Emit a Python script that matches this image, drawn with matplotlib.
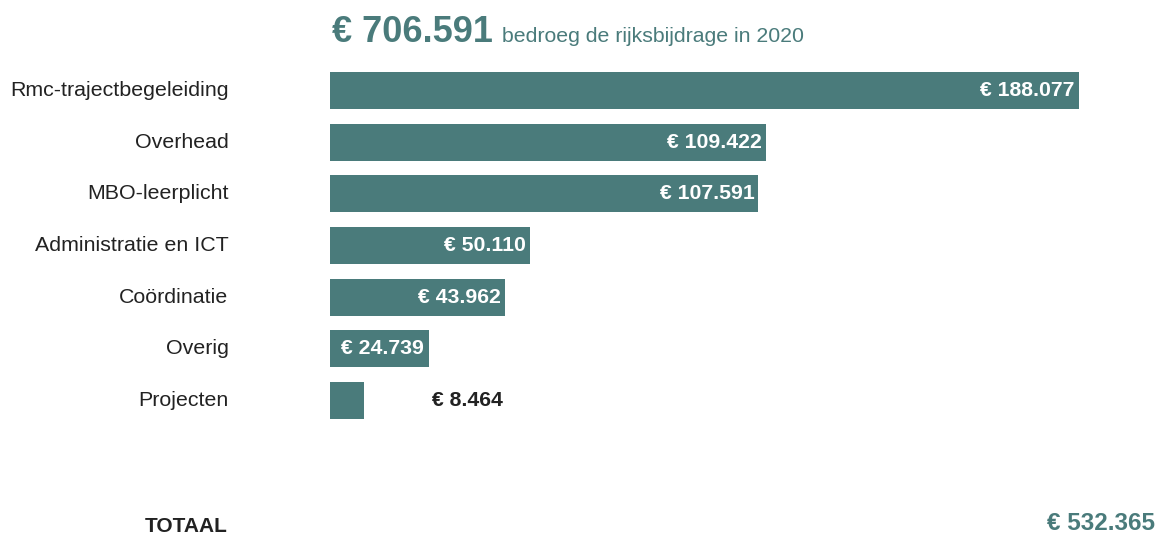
import matplotlib
matplotlib.use("Agg")
import matplotlib.pyplot as plt

plt.rcParams["font.family"] = ["Liberation Sans", "DejaVu Sans"]

# rijksbijdrage 2020 per post
categories = ["Rmc-trajectbegeleiding", "Overhead", "MBO-leerplicht",
              "Administratie en ICT", "Coördinatie", "Overig", "Projecten"]
values = [188077, 109422, 107591, 50110, 43962, 24739, 8464]
total_bijdrage = 706591
totaal = 532365

teal = "#4a7b7b"
dark = "#222222"


def euro(v):
    return "€ " + f"{v:,}".replace(",", ".")


W, H = 1158, 534
fig = plt.figure(figsize=(W / 100, H / 100), dpi=100, facecolor="white")

# axes in pixel terms: bars from x=330 to 1079, rows from y=72 to 419
left, right = 330, 1079
top, bottom = 72, 419
ax = fig.add_axes([left / W, 1 - bottom / H, (right - left) / W, (bottom - top) / H])

n = len(categories)
bar_h = 0.716
ypos = list(range(n))
ax.barh(ypos, values, height=bar_h, color=teal, align="center")
ax.set_xlim(0, max(values))
ax.set_ylim(n - 1 + bar_h / 2, -bar_h / 2)
ax.axis("off")

for y, cat, v in zip(ypos, categories, values):
    ax.annotate(cat, xy=(0, y), xytext=(-73, 0), textcoords="offset points",
                ha="right", va="center", fontsize=15.4, color=dark,
                annotation_clip=False)
    if v > 20000:
        ax.annotate(euro(v), xy=(v, y), xytext=(-3, 0), textcoords="offset points",
                    ha="right", va="center", fontsize=15.3, fontweight="bold",
                    color="white")
    else:
        ax.annotate(euro(v), xy=(v, y), xytext=(49, 0), textcoords="offset points",
                    ha="left", va="center", fontsize=15.3, fontweight="bold",
                    color=dark)

# kop
t1 = fig.text(332 / W, 1 - 42 / H, euro(total_bijdrage), fontsize=26,
              fontweight="bold", color=teal, ha="left", va="baseline")
fig.canvas.draw()
bb = t1.get_window_extent()
fig.text((bb.x1 + 9) / W, 1 - 42 / H, "bedroeg de rijksbijdrage in 2020",
         fontsize=15.3, color=teal, ha="left", va="baseline")

# totaalregel
fig.text(228 / W, 1 - 532 / H, "TOTAAL", fontsize=15, fontweight="bold",
         color=dark, ha="right", va="baseline")
fig.text(1155 / W, 1 - 530 / H, euro(totaal), fontsize=17.5, fontweight="bold",
         color=teal, ha="right", va="baseline")

fig.savefig("out.png", dpi=100, facecolor="white")
